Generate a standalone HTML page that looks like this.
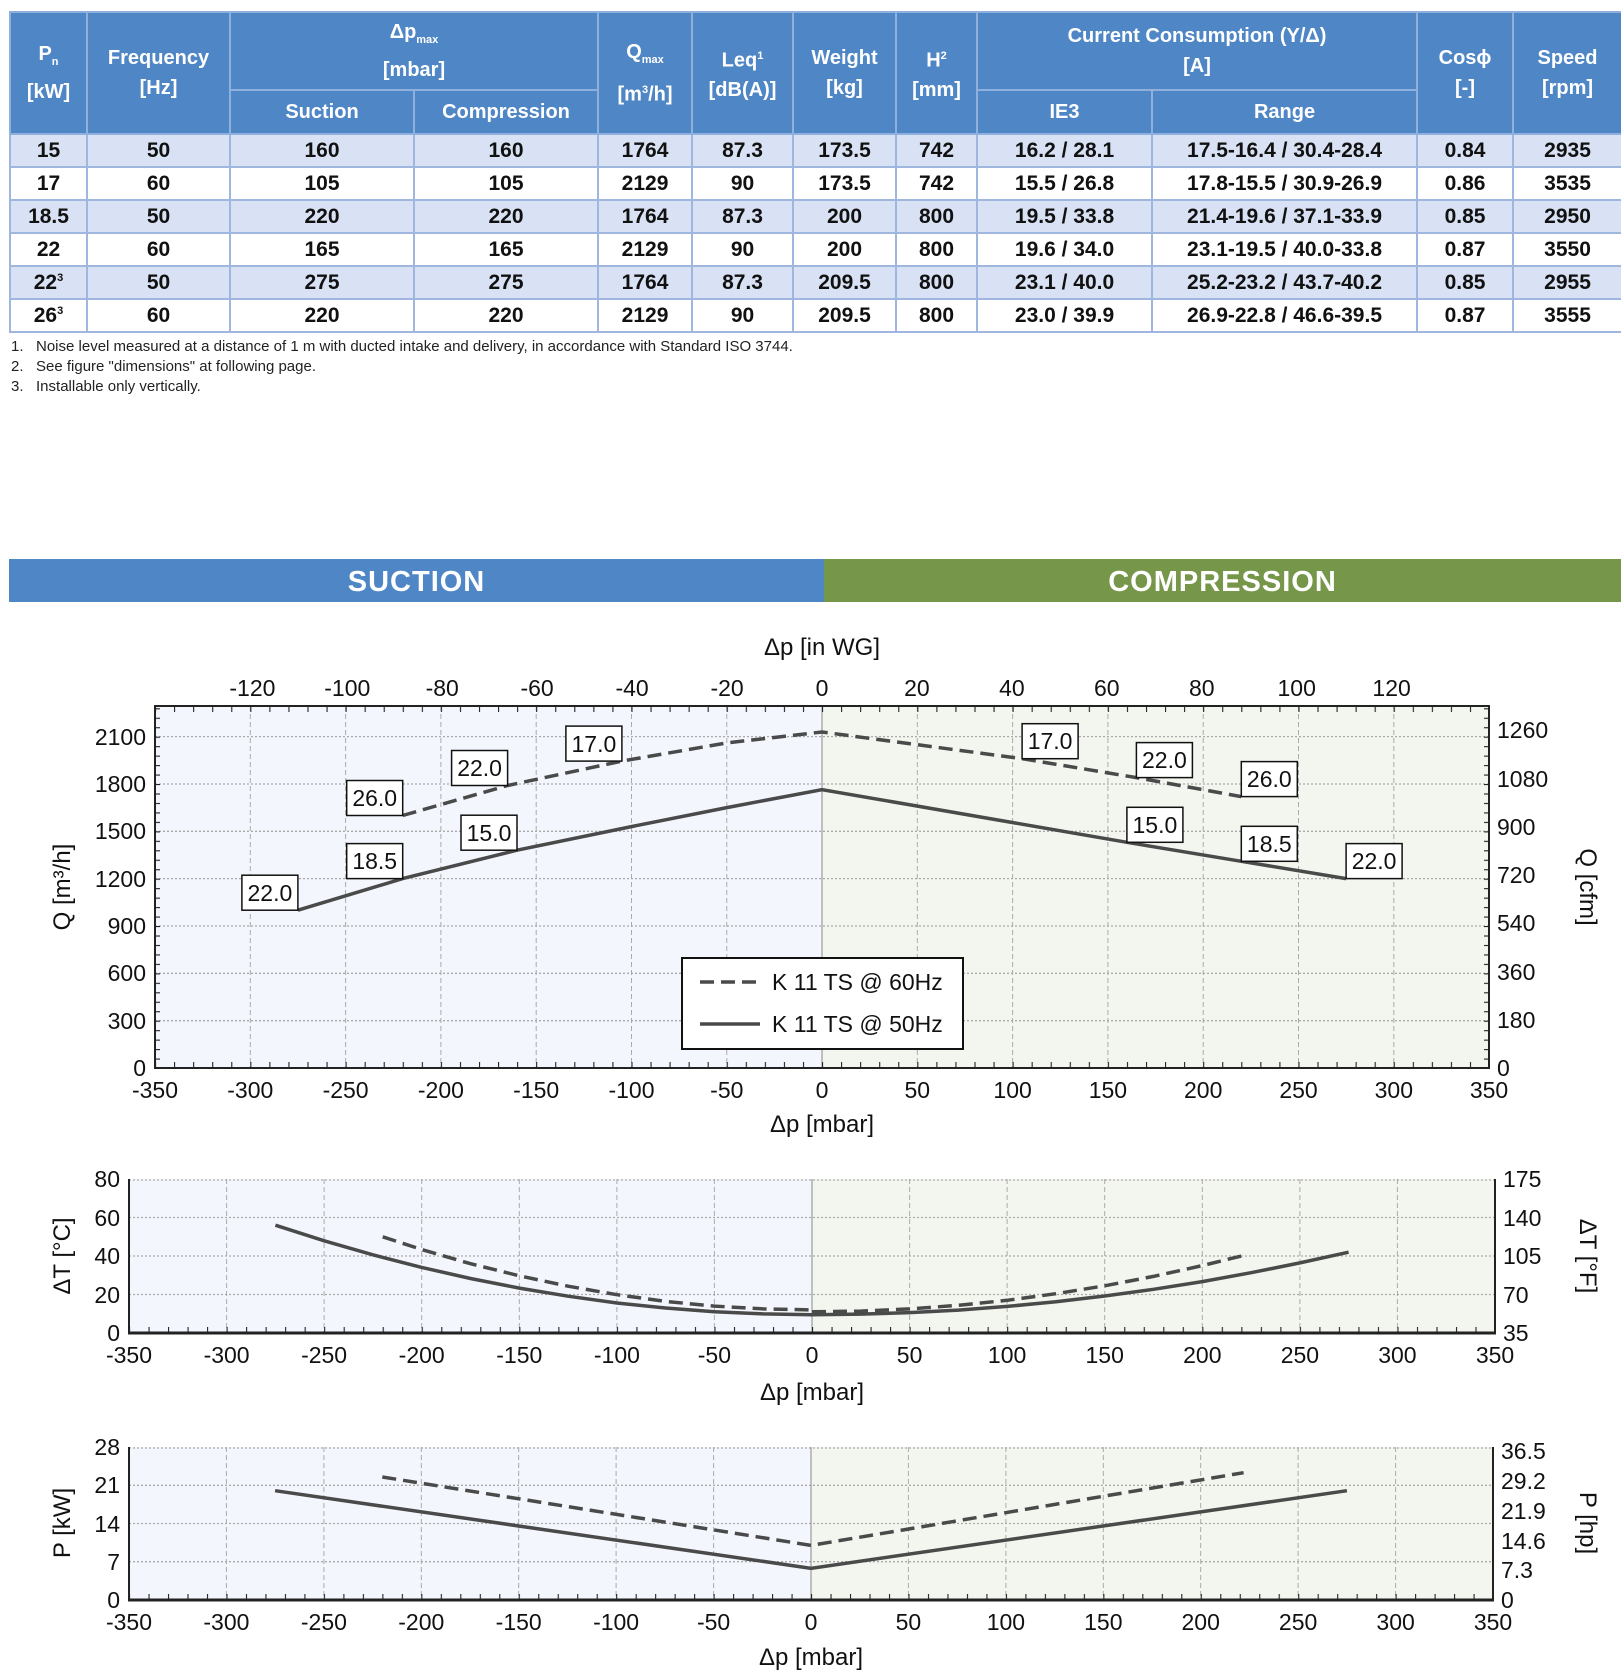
<!DOCTYPE html>
<html><head><meta charset="utf-8"><style>
body{margin:0;width:1621px;height:1678px;background:#fff;position:relative;overflow:hidden;font-family:"Liberation Sans Narrow","Liberation Sans",sans-serif}
table{position:absolute;left:9px;top:11px;border-collapse:collapse;table-layout:fixed;width:1612px}
th{background:#4f86c6;color:#fff;font-weight:bold;font-size:20px;border:2px solid #8fb0dd;line-height:30px;padding:0}
td{text-align:center;font-weight:bold;font-size:21px;color:#111;border:2px solid #9fb6de;height:31px;padding:0}
tr.a td{background:#d9e2f4}
sub,sup{font-size:11px}
.fn{position:absolute;left:11px;font-size:15px;color:#222;font-family:"Liberation Sans",sans-serif}
.ban{position:absolute;top:559px;height:43px;color:#fff;font-weight:bold;font-size:29px;text-align:center;line-height:46px;letter-spacing:1px;font-family:"Liberation Sans",sans-serif}
svg{position:absolute;left:0;top:0}
</style></head><body>
<table>
<colgroup><col style="width:77px"><col style="width:143px"><col style="width:184px"><col style="width:184px"><col style="width:94px"><col style="width:101px"><col style="width:103px"><col style="width:81px"><col style="width:175px"><col style="width:265px"><col style="width:96px"><col style="width:109px"></colgroup>
<tr style="height:78px"><th rowspan="2">P<sub>n</sub><br>[kW]</th><th rowspan="2">Frequency<br>[Hz]</th><th colspan="2">Δp<sub>max</sub><br>[mbar]</th><th rowspan="2">Q<sub>max</sub><br>[m<sup>3</sup>/h]</th><th rowspan="2">Leq<sup>1</sup><br>[dB(A)]</th><th rowspan="2">Weight<br>[kg]</th><th rowspan="2">H<sup>2</sup><br>[mm]</th><th colspan="2">Current Consumption (Y/Δ)<br>[A]</th><th rowspan="2">Cosϕ<br>[-]</th><th rowspan="2">Speed<br>[rpm]</th></tr>
<tr style="height:44px"><th>Suction</th><th>Compression</th><th>IE3</th><th>Range</th></tr>
<tr class="a"><td>15</td><td>50</td><td>160</td><td>160</td><td>1764</td><td>87.3</td><td>173.5</td><td>742</td><td>16.2 / 28.1</td><td>17.5-16.4 / 30.4-28.4</td><td>0.84</td><td>2935</td></tr>
<tr><td>17</td><td>60</td><td>105</td><td>105</td><td>2129</td><td>90</td><td>173.5</td><td>742</td><td>15.5 / 26.8</td><td>17.8-15.5 / 30.9-26.9</td><td>0.86</td><td>3535</td></tr>
<tr class="a"><td>18.5</td><td>50</td><td>220</td><td>220</td><td>1764</td><td>87.3</td><td>200</td><td>800</td><td>19.5 / 33.8</td><td>21.4-19.6 / 37.1-33.9</td><td>0.85</td><td>2950</td></tr>
<tr><td>22</td><td>60</td><td>165</td><td>165</td><td>2129</td><td>90</td><td>200</td><td>800</td><td>19.6 / 34.0</td><td>23.1-19.5 / 40.0-33.8</td><td>0.87</td><td>3550</td></tr>
<tr class="a"><td>22<sup>3</sup></td><td>50</td><td>275</td><td>275</td><td>1764</td><td>87.3</td><td>209.5</td><td>800</td><td>23.1 / 40.0</td><td>25.2-23.2 / 43.7-40.2</td><td>0.85</td><td>2955</td></tr>
<tr><td>26<sup>3</sup></td><td>60</td><td>220</td><td>220</td><td>2129</td><td>90</td><td>209.5</td><td>800</td><td>23.0 / 39.9</td><td>26.9-22.8 / 46.6-39.5</td><td>0.87</td><td>3555</td></tr>
</table>
<div class="fn" style="top:338px">1.&nbsp;&nbsp; Noise level measured at a distance of 1 m with ducted intake and delivery, in accordance with Standard ISO 3744.</div>
<div class="fn" style="top:358px">2.&nbsp;&nbsp; See figure "dimensions" at following page.</div>
<div class="fn" style="top:378px">3.&nbsp;&nbsp; Installable only vertically.</div>
<div class="ban" style="left:9px;width:815px;background:#4f86c6">SUCTION</div>
<div class="ban" style="left:824px;width:797px;background:#76964a">COMPRESSION</div>

<svg width="1621" height="1678" font-family="Liberation Sans Narrow, Liberation Sans, sans-serif" font-size="23" fill="#111">
<defs>
<pattern id="tx1" x="155" y="0" width="19.057" height="10" patternUnits="userSpaceOnUse"><line x1="0.5" y1="0" x2="0.5" y2="10" stroke="#222" stroke-width="1.2"/></pattern>
<pattern id="ty1" x="0" y="1068" width="10" height="9.467" patternUnits="userSpaceOnUse"><line x1="0" y1="0.5" x2="10" y2="0.5" stroke="#222" stroke-width="1.2"/></pattern>
<pattern id="tx2" x="129" y="0" width="19.514" height="10" patternUnits="userSpaceOnUse"><line x1="0.5" y1="0" x2="0.5" y2="10" stroke="#222" stroke-width="1.2"/></pattern>
<pattern id="tx3" x="129" y="0" width="19.486" height="10" patternUnits="userSpaceOnUse"><line x1="0.5" y1="0" x2="0.5" y2="10" stroke="#222" stroke-width="1.2"/></pattern>
</defs>

<!-- CHART 1 -->
<rect x="155" y="706" width="667" height="362" fill="#f3f7fd"/>
<rect x="822" y="706" width="667" height="362" fill="#f3f6ef"/>
<g stroke="#aaa" stroke-width="1" stroke-dasharray="5,3">
<line x1="250.3" y1="706" x2="250.3" y2="1068"/><line x1="345.6" y1="706" x2="345.6" y2="1068"/><line x1="440.9" y1="706" x2="440.9" y2="1068"/><line x1="536.2" y1="706" x2="536.2" y2="1068"/><line x1="631.5" y1="706" x2="631.5" y2="1068"/><line x1="726.8" y1="706" x2="726.8" y2="1068"/><line x1="917.3" y1="706" x2="917.3" y2="1068"/><line x1="1012.6" y1="706" x2="1012.6" y2="1068"/><line x1="1107.9" y1="706" x2="1107.9" y2="1068"/><line x1="1203.2" y1="706" x2="1203.2" y2="1068"/><line x1="1298.5" y1="706" x2="1298.5" y2="1068"/><line x1="1393.8" y1="706" x2="1393.8" y2="1068"/>
</g>
<g stroke="#aaa" stroke-width="1.3" stroke-dasharray="2,2">
<line x1="155" y1="1020.7" x2="1489" y2="1020.7"/><line x1="155" y1="973.3" x2="1489" y2="973.3"/><line x1="155" y1="926" x2="1489" y2="926"/><line x1="155" y1="878.6" x2="1489" y2="878.6"/><line x1="155" y1="831.3" x2="1489" y2="831.3"/><line x1="155" y1="784" x2="1489" y2="784"/><line x1="155" y1="736.6" x2="1489" y2="736.6"/>
</g>
<line x1="822" y1="706" x2="822" y2="1068" stroke="#888" stroke-width="1"/>
<rect x="155" y="1062" width="1334" height="6" fill="url(#tx1)"/>
<rect x="155" y="706" width="1334" height="6" fill="url(#tx1)"/>
<rect x="155" y="706" width="5" height="362" fill="url(#ty1)"/>
<rect x="1484" y="706" width="5" height="362" fill="url(#ty1)"/>
<rect x="155" y="706" width="1334" height="362" fill="none" stroke="#222" stroke-width="2"/>
<polyline points="402.7,815.5 507.6,785.5 621.9,761.1 726.8,742.9 822,732 1022.1,758.7 1136.4,777.6 1241.3,796.6" fill="none" stroke="#4a4a4a" stroke-width="3.5" stroke-dasharray="14,7"/>
<polyline points="297.9,910.2 402.7,878.6 517,850.2 631.4,826.6 726.8,807.6 822,789.6 1126.9,842.3 1241.3,861.3 1346.1,878.6" fill="none" stroke="#4a4a4a" stroke-width="3.5"/>
<g fill="#fff" stroke="#111" stroke-width="1.5">
<rect x="346.7" y="780.5" width="56" height="35"/><rect x="451.6" y="750.5" width="56" height="35"/><rect x="565.9" y="726.1" width="56" height="35"/>
<rect x="241.9" y="875.2" width="56" height="35"/><rect x="346.7" y="843.6" width="56" height="35"/><rect x="461" y="815.2" width="56" height="35"/>
<rect x="1022.1" y="723.7" width="56" height="35"/><rect x="1136.4" y="742.6" width="56" height="35"/><rect x="1241.3" y="761.6" width="56" height="35"/>
<rect x="1126.9" y="807.3" width="56" height="35"/><rect x="1241.3" y="826.3" width="56" height="35"/><rect x="1346.1" y="843.6" width="56" height="35"/>
</g>
<g text-anchor="middle">
<text x="374.7" y="806">26.0</text><text x="479.6" y="776">22.0</text><text x="593.9" y="752">17.0</text>
<text x="269.9" y="901">22.0</text><text x="374.7" y="869">18.5</text><text x="489" y="841">15.0</text>
<text x="1050.1" y="749">17.0</text><text x="1164.4" y="768">22.0</text><text x="1269.3" y="787">26.0</text>
<text x="1154.9" y="833">15.0</text><text x="1269.3" y="852">18.5</text><text x="1374.1" y="869">22.0</text>
</g>
<rect x="682" y="958" width="281" height="91" fill="#fff" stroke="#111" stroke-width="2"/>
<line x1="700" y1="982" x2="760" y2="982" stroke="#4a4a4a" stroke-width="3.5" stroke-dasharray="14,7"/>
<line x1="700" y1="1024" x2="760" y2="1024" stroke="#4a4a4a" stroke-width="3.5"/>
<text x="772" y="990">K 11 TS @ 60Hz</text><text x="772" y="1032">K 11 TS @ 50Hz</text>
<g text-anchor="middle">
<text x="155" y="1098">-350</text><text x="250.3" y="1098">-300</text><text x="345.6" y="1098">-250</text><text x="440.9" y="1098">-200</text><text x="536.2" y="1098">-150</text><text x="631.5" y="1098">-100</text><text x="726.8" y="1098">-50</text><text x="822" y="1098">0</text><text x="917.3" y="1098">50</text><text x="1012.6" y="1098">100</text><text x="1107.9" y="1098">150</text><text x="1203.2" y="1098">200</text><text x="1298.5" y="1098">250</text><text x="1393.8" y="1098">300</text><text x="1489" y="1098">350</text>
<text x="252.4" y="696">-120</text><text x="347.3" y="696">-100</text><text x="442.2" y="696">-80</text><text x="537.1" y="696">-60</text><text x="632.1" y="696">-40</text><text x="727.1" y="696">-20</text><text x="822" y="696">0</text><text x="916.9" y="696">20</text><text x="1011.9" y="696">40</text><text x="1106.8" y="696">60</text><text x="1201.8" y="696">80</text><text x="1296.7" y="696">100</text><text x="1391.6" y="696">120</text>
<text x="822" y="655" font-size="24">Δp [in WG]</text>
<text x="822" y="1132" font-size="24">Δp [mbar]</text>
</g>
<g text-anchor="end">
<text x="146" y="1076">0</text><text x="146" y="1029">300</text><text x="146" y="981">600</text><text x="146" y="934">900</text><text x="146" y="887">1200</text><text x="146" y="839">1500</text><text x="146" y="792">1800</text><text x="146" y="745">2100</text>
</g>
<g text-anchor="start">
<text x="1497" y="1076">0</text><text x="1497" y="1028">180</text><text x="1497" y="980">360</text><text x="1497" y="931">540</text><text x="1497" y="883">720</text><text x="1497" y="835">900</text><text x="1497" y="787">1080</text><text x="1497" y="738">1260</text>
</g>
<text transform="translate(70,887) rotate(-90)" text-anchor="middle" font-size="24">Q [m³/h]</text>
<text transform="translate(1580,887) rotate(90)" text-anchor="middle" font-size="24">Q [cfm]</text>

<!-- CHART 2 -->
<rect x="129" y="1179" width="683" height="154" fill="#f3f7fd"/>
<rect x="812" y="1179" width="683" height="154" fill="#f3f6ef"/>
<g stroke="#aaa" stroke-width="1" stroke-dasharray="5,3">
<line x1="226.6" y1="1179" x2="226.6" y2="1333"/><line x1="324.1" y1="1179" x2="324.1" y2="1333"/><line x1="421.7" y1="1179" x2="421.7" y2="1333"/><line x1="519.3" y1="1179" x2="519.3" y2="1333"/><line x1="616.9" y1="1179" x2="616.9" y2="1333"/><line x1="714.4" y1="1179" x2="714.4" y2="1333"/><line x1="909.6" y1="1179" x2="909.6" y2="1333"/><line x1="1007.1" y1="1179" x2="1007.1" y2="1333"/><line x1="1104.7" y1="1179" x2="1104.7" y2="1333"/><line x1="1202.3" y1="1179" x2="1202.3" y2="1333"/><line x1="1299.9" y1="1179" x2="1299.9" y2="1333"/><line x1="1397.4" y1="1179" x2="1397.4" y2="1333"/>
</g>
<g stroke="#aaa" stroke-width="1.3" stroke-dasharray="2,2">
<line x1="129" y1="1294.5" x2="1495" y2="1294.5"/><line x1="129" y1="1256" x2="1495" y2="1256"/><line x1="129" y1="1217.5" x2="1495" y2="1217.5"/><line x1="129" y1="1180" x2="1495" y2="1180"/>
</g>
<line x1="812" y1="1179" x2="812" y2="1333" stroke="#888" stroke-width="1"/>
<rect x="129" y="1327" width="1366" height="6" fill="url(#tx2)"/>
<line x1="129" y1="1179" x2="129" y2="1334" stroke="#222" stroke-width="2"/>
<line x1="1495" y1="1179" x2="1495" y2="1334" stroke="#222" stroke-width="2"/>
<line x1="128" y1="1333" x2="1496" y2="1333" stroke="#222" stroke-width="3"/>
<polyline points="275.4,1225.2 324.2,1240.8 372.9,1254.8 421.7,1267.4 470.5,1278.5 519.3,1288.1 568.1,1296.2 616.9,1303 665.6,1308 714.4,1311.8 763.2,1313.9 812,1314.7 860.8,1314.1 909.6,1312.6 958.4,1310.1 1007.1,1306.4 1055.9,1301.8 1104.7,1296 1153.5,1289.3 1202.3,1281.6 1251.1,1272.7 1299.9,1262.9 1348.6,1252.2" fill="none" stroke="#4a4a4a" stroke-width="3.5"/>
<polyline points="382.7,1236.8 421.7,1249.5 470.5,1263.7 519.3,1275.8 568.1,1286.2 616.9,1294.7 665.6,1301.4 714.4,1306.1 763.2,1308.9 812,1309.9" fill="none" stroke="#4a4a4a" stroke-width="3.5" stroke-dasharray="14,7"/>
<polyline points="812,1311.8 860.8,1311.1 909.6,1308.9 958.4,1305.3 1007.1,1300.3 1055.9,1293.7 1104.7,1285.8 1153.5,1276.4 1202.3,1265.6 1241.3,1256" fill="none" stroke="#4a4a4a" stroke-width="3.5" stroke-dasharray="14,7"/>
<g text-anchor="middle">
<text x="129" y="1363">-350</text><text x="226.6" y="1363">-300</text><text x="324.1" y="1363">-250</text><text x="421.7" y="1363">-200</text><text x="519.3" y="1363">-150</text><text x="616.9" y="1363">-100</text><text x="714.4" y="1363">-50</text><text x="812" y="1363">0</text><text x="909.6" y="1363">50</text><text x="1007.1" y="1363">100</text><text x="1104.7" y="1363">150</text><text x="1202.3" y="1363">200</text><text x="1299.9" y="1363">250</text><text x="1397.4" y="1363">300</text><text x="1495" y="1363">350</text>
<text x="812" y="1400" font-size="24">Δp [mbar]</text>
</g>
<g text-anchor="end">
<text x="120" y="1341">0</text><text x="120" y="1303">20</text><text x="120" y="1264">40</text><text x="120" y="1226">60</text><text x="120" y="1187">80</text>
</g>
<g text-anchor="start">
<text x="1503" y="1341">35</text><text x="1503" y="1303">70</text><text x="1503" y="1264">105</text><text x="1503" y="1226">140</text><text x="1503" y="1187">175</text>
</g>
<text transform="translate(70,1256) rotate(-90)" text-anchor="middle" font-size="24">ΔT [°C]</text>
<text transform="translate(1580,1256) rotate(90)" text-anchor="middle" font-size="24">ΔT [°F]</text>

<!-- CHART 3 -->
<rect x="129" y="1447" width="682" height="153" fill="#f3f7fd"/>
<rect x="811" y="1447" width="682" height="153" fill="#f3f6ef"/>
<g stroke="#aaa" stroke-width="1" stroke-dasharray="5,3">
<line x1="226.4" y1="1447" x2="226.4" y2="1600"/><line x1="323.9" y1="1447" x2="323.9" y2="1600"/><line x1="421.3" y1="1447" x2="421.3" y2="1600"/><line x1="518.7" y1="1447" x2="518.7" y2="1600"/><line x1="616.1" y1="1447" x2="616.1" y2="1600"/><line x1="713.6" y1="1447" x2="713.6" y2="1600"/><line x1="908.4" y1="1447" x2="908.4" y2="1600"/><line x1="1005.9" y1="1447" x2="1005.9" y2="1600"/><line x1="1103.3" y1="1447" x2="1103.3" y2="1600"/><line x1="1200.7" y1="1447" x2="1200.7" y2="1600"/><line x1="1298.1" y1="1447" x2="1298.1" y2="1600"/><line x1="1395.6" y1="1447" x2="1395.6" y2="1600"/>
</g>
<g stroke="#aaa" stroke-width="1.3" stroke-dasharray="2,2">
<line x1="129" y1="1561.7" x2="1493" y2="1561.7"/><line x1="129" y1="1523.5" x2="1493" y2="1523.5"/><line x1="129" y1="1485.3" x2="1493" y2="1485.3"/><line x1="129" y1="1448" x2="1493" y2="1448"/>
</g>
<line x1="811" y1="1447" x2="811" y2="1600" stroke="#888" stroke-width="1"/>
<rect x="129" y="1594" width="1364" height="6" fill="url(#tx3)"/>
<line x1="129" y1="1447" x2="129" y2="1601" stroke="#222" stroke-width="2"/>
<line x1="1493" y1="1447" x2="1493" y2="1601" stroke="#222" stroke-width="2"/>
<line x1="128" y1="1600" x2="1494" y2="1600" stroke="#222" stroke-width="3"/>
<polyline points="275.1,1490.7 811,1568.3 1346.9,1490.7" fill="none" stroke="#4a4a4a" stroke-width="3.5"/>
<polyline points="382.3,1477 811,1545.4 1243.6,1472.7" fill="none" stroke="#4a4a4a" stroke-width="3.5" stroke-dasharray="14,7"/>
<g text-anchor="middle">
<text x="129" y="1630">-350</text><text x="226.4" y="1630">-300</text><text x="323.9" y="1630">-250</text><text x="421.3" y="1630">-200</text><text x="518.7" y="1630">-150</text><text x="616.1" y="1630">-100</text><text x="713.6" y="1630">-50</text><text x="811" y="1630">0</text><text x="908.4" y="1630">50</text><text x="1005.9" y="1630">100</text><text x="1103.3" y="1630">150</text><text x="1200.7" y="1630">200</text><text x="1298.1" y="1630">250</text><text x="1395.6" y="1630">300</text><text x="1493" y="1630">350</text>
<text x="811" y="1665" font-size="24">Δp [mbar]</text>
</g>
<g text-anchor="end">
<text x="120" y="1608">0</text><text x="120" y="1570">7</text><text x="120" y="1532">14</text><text x="120" y="1493">21</text><text x="120" y="1455">28</text>
</g>
<g text-anchor="start">
<text x="1501" y="1608">0</text><text x="1501" y="1578">7.3</text><text x="1501" y="1549">14.6</text><text x="1501" y="1519">21.9</text><text x="1501" y="1489">29.2</text><text x="1501" y="1459">36.5</text>
</g>
<text transform="translate(70,1523) rotate(-90)" text-anchor="middle" font-size="24">P [kW]</text>
<text transform="translate(1580,1523) rotate(90)" text-anchor="middle" font-size="24">P [hp]</text>
</svg>
</body></html>
